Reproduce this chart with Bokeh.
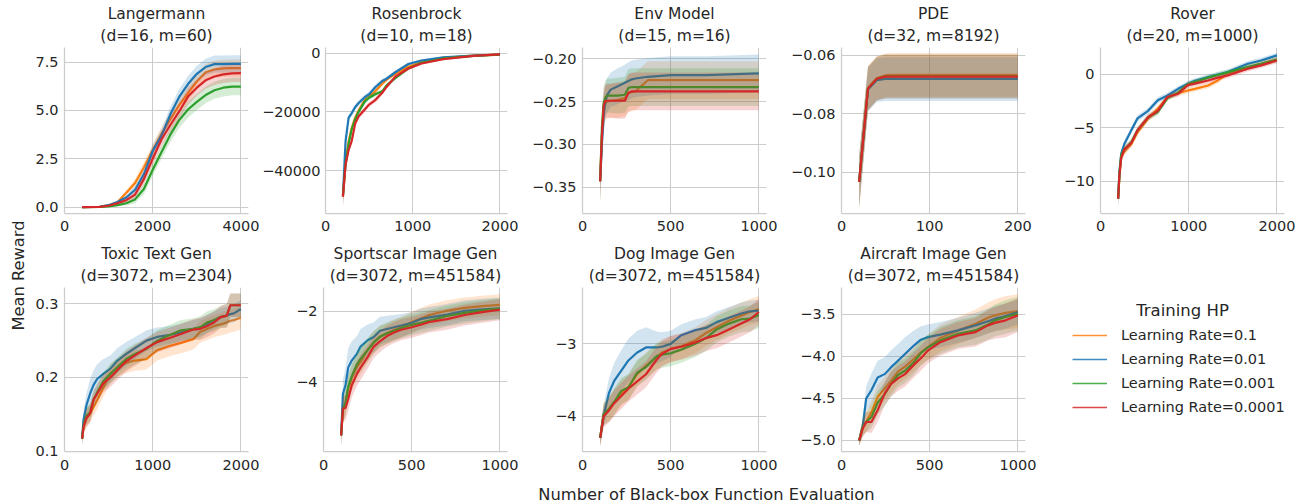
from bokeh.plotting import figure
from bokeh.models import Range1d, FixedTicker, Title, Legend, LegendItem, Label
from bokeh.layouts import row, column
from bokeh.embed import file_html
from bokeh.resources import INLINE

FONT = "DejaVu Sans"
TXT = "#262626"
GRID = "#cccccc"

hue_labels = ["Learning Rate=0.1", "Learning Rate=0.01", "Learning Rate=0.001", "Learning Rate=0.0001"]
hue_colors = ["#ff7f0e", "#1f77b4", "#2ca02c", "#d62728"]

# ---------------- Langermann ----------------
lang_x = [400, 800, 1000, 1200, 1400, 1600, 1800, 2000, 2200, 2400, 2600, 2800, 3000, 3200, 3400, 3600, 3800, 4000]
lang_m1 = [0, 0.02, 0.1, 0.25, 0.74, 1.25, 2.05, 2.95, 3.8, 4.55, 5.28, 5.9, 6.5, 6.98, 7.12, 7.18, 7.19, 7.19]
lang_m2 = [0, 0.02, 0.1, 0.26, 0.5, 0.9, 1.7, 2.9, 3.7, 4.8, 5.7, 6.37, 6.9, 7.25, 7.4, 7.4, 7.41, 7.41]
lang_m3 = [0, 0.01, 0.04, 0.1, 0.2, 0.4, 0.94, 1.93, 2.85, 3.75, 4.5, 5.05, 5.45, 5.8, 6.05, 6.18, 6.24, 6.24]
lang_m4 = [0, 0.01, 0.07, 0.2, 0.36, 0.65, 1.45, 2.5, 3.5, 4.25, 4.95, 5.72, 6.18, 6.56, 6.76, 6.87, 6.92, 6.93]
lang_e = [0, 0.01, 0.03, 0.06, 0.12, 0.2, 0.28, 0.32, 0.35, 0.38, 0.4, 0.42, 0.42, 0.43, 0.44, 0.45, 0.45, 0.45]

# ---------------- Rosenbrock ----------------
rosen_x = [200, 230, 265, 300, 340, 380, 450, 500, 570, 650, 700, 800, 950, 1100, 1350, 1700, 2000]
rosen_m1 = [-48500, -37000, -30000, -25500, -22000, -19500, -16000, -14800, -13000, -10400, -9000, -7000, -4600, -3000, -1600, -800, -400]
rosen_m2 = [-48500, -30000, -22000, -20500, -18400, -17000, -15000, -14000, -11600, -9500, -8700, -6500, -3700, -2500, -1400, -800, -450]
rosen_m3 = [-48500, -38000, -31000, -26000, -22500, -20000, -16500, -15200, -14000, -13000, -11000, -8500, -5200, -3300, -1800, -900, -500]
rosen_m4 = [-49000, -38000, -33000, -30000, -24000, -21500, -19200, -17500, -16000, -13500, -11500, -8000, -5200, -3500, -2000, -900, -400]
rosen_e = [3500, 1500, 1200, 1000, 1000, 900, 900, 800, 800, 700, 700, 600, 500, 400, 300, 200, 200]

# ---------------- Env Model ----------------
env_x = [100, 110, 120, 130, 140, 160, 200, 240, 260, 280, 300, 370, 500, 700, 1000]
env_m1 = [-0.343, -0.29, -0.262, -0.252, -0.25, -0.249, -0.248, -0.246, -0.240, -0.239, -0.238, -0.225, -0.225, -0.225, -0.225]
env_m2 = [-0.343, -0.30, -0.265, -0.25, -0.242, -0.236, -0.232, -0.228, -0.226, -0.224, -0.223, -0.221, -0.219, -0.219, -0.217]
env_m3 = [-0.343, -0.28, -0.252, -0.245, -0.243, -0.243, -0.243, -0.242, -0.234, -0.233, -0.233, -0.233, -0.233, -0.233, -0.233]
env_m4 = [-0.343, -0.29, -0.255, -0.249, -0.249, -0.249, -0.249, -0.249, -0.240, -0.238, -0.238, -0.238, -0.238, -0.238, -0.238]
env_e = [0.025, 0.022, 0.02, 0.02, 0.02, 0.02, 0.021, 0.021, 0.022, 0.022, 0.022, 0.022, 0.022, 0.022, 0.022]

# ---------------- PDE ----------------
pde_x = [20, 30, 40, 50, 60, 80, 100, 120, 140, 160, 180, 200]
pde_m1 = [-0.1034, -0.0712, -0.0678, -0.0668, -0.0667, -0.0667, -0.0667, -0.0667, -0.0667, -0.0667, -0.0667, -0.0667]
pde_m2 = [-0.1034, -0.0717, -0.0685, -0.0681, -0.0681, -0.0681, -0.0681, -0.0681, -0.0681, -0.0681, -0.0681, -0.0681]
pde_m3 = [-0.1034, -0.0714, -0.0680, -0.0672, -0.0672, -0.0672, -0.0672, -0.0672, -0.0672, -0.0672, -0.0672, -0.0672]
pde_m4 = [-0.1034, -0.0714, -0.0680, -0.0673, -0.0673, -0.0673, -0.0673, -0.0673, -0.0673, -0.0673, -0.0673, -0.0673]
pde_e = [0.0088, 0.0075, 0.0075, 0.0075, 0.0075, 0.0075, 0.0075, 0.0075, 0.0075, 0.0075, 0.0075, 0.0075]

# ---------------- Rover ----------------
rover_x = [200, 215, 235, 270, 350, 420, 540, 650, 760, 880, 990, 1070, 1220, 1330, 1440, 1670, 1820, 2000]
rover_m1 = [-11.6, -9.5, -7.7, -7.2, -6.5, -5.4, -4.1, -3.2, -2.1, -1.75, -1.5, -1.34, -1.03, -0.56, 0.06, 0.68, 1.0, 1.40]
rover_m2 = [-11.6, -9.0, -7.4, -6.5, -5.2, -4.1, -3.4, -2.4, -1.96, -1.34, -0.87, -0.6, -0.25, 0.0, 0.22, 1.0, 1.31, 1.78]
rover_m3 = [-11.6, -9.3, -7.5, -7.0, -6.3, -5.2, -4.0, -3.5, -2.2, -1.7, -0.9, -0.7, -0.3, -0.05, 0.2, 0.7, 1.0, 1.4]
rover_m4 = [-11.6, -9.3, -7.8, -7.0, -6.4, -5.2, -4.0, -3.4, -2.1, -1.8, -1.0, -0.85, -0.56, -0.3, -0.1, 0.53, 0.85, 1.31]
rover_e = [0.8, 0.5, 0.4, 0.35, 0.3, 0.3, 0.3, 0.3, 0.25, 0.25, 0.25, 0.25, 0.25, 0.25, 0.25, 0.25, 0.25, 0.25]

# ---------------- Toxic Text Gen ----------------
tox_x = [200, 215, 250, 290, 330, 370, 440, 520, 600, 700, 800, 930, 1050, 1200, 1320, 1460, 1540, 1620, 1700, 1770, 1840, 1880, 1920, 2000]
tox_m1 = [0.117, 0.133, 0.145, 0.151, 0.160, 0.169, 0.186, 0.205, 0.214, 0.220, 0.223, 0.225, 0.237, 0.243, 0.247, 0.252, 0.262, 0.266, 0.270, 0.272, 0.275, 0.277, 0.278, 0.281]
tox_m2 = [0.117, 0.142, 0.163, 0.178, 0.19, 0.198, 0.205, 0.212, 0.223, 0.232, 0.240, 0.250, 0.255, 0.258, 0.261, 0.266, 0.268, 0.273, 0.278, 0.282, 0.284, 0.286, 0.287, 0.293]
tox_m3 = [0.117, 0.135, 0.148, 0.153, 0.170, 0.180, 0.195, 0.205, 0.214, 0.225, 0.232, 0.239, 0.250, 0.258, 0.264, 0.266, 0.268, 0.275, 0.278, 0.282, 0.284, 0.298, 0.298, 0.298]
tox_m4 = [0.117, 0.133, 0.145, 0.151, 0.170, 0.178, 0.192, 0.200, 0.210, 0.222, 0.230, 0.240, 0.248, 0.254, 0.259, 0.265, 0.266, 0.270, 0.275, 0.282, 0.284, 0.298, 0.298, 0.298]
tox_e = [0.008, 0.01, 0.012, 0.012, 0.012, 0.012, 0.012, 0.013, 0.013, 0.014, 0.014, 0.014, 0.014, 0.014, 0.014, 0.014, 0.015, 0.015, 0.015, 0.015, 0.016, 0.016, 0.016, 0.016]
tox_e2 = [0.008, 0.012, 0.016, 0.02, 0.02, 0.02, 0.02, 0.018, 0.017, 0.016, 0.015, 0.014, 0.013, 0.012, 0.012, 0.012, 0.012, 0.012, 0.012, 0.012, 0.012, 0.012, 0.012, 0.012]

# ---------------- Sportscar Image Gen ----------------
car_x = [100, 110, 125, 140, 160, 190, 210, 250, 285, 320, 360, 400, 440, 500, 550, 600, 700, 800, 900, 1000]
car_m1 = [-5.53, -4.8, -4.6, -4.2, -3.9, -3.58, -3.45, -3.1, -2.88, -2.72, -2.62, -2.52, -2.45, -2.3, -2.2, -2.1, -1.98, -1.9, -1.85, -1.81]
car_m2 = [-5.53, -4.35, -4.1, -3.6, -3.4, -3.2, -3.0, -2.82, -2.73, -2.55, -2.5, -2.45, -2.4, -2.32, -2.22, -2.17, -2.09, -1.98, -1.94, -1.91]
car_m3 = [-5.53, -4.8, -4.6, -4.15, -3.85, -3.5, -3.35, -3.1, -2.88, -2.72, -2.62, -2.55, -2.47, -2.38, -2.32, -2.26, -2.13, -2.04, -1.97, -1.92]
car_m4 = [-5.53, -4.77, -4.75, -4.5, -4.1, -3.77, -3.6, -3.3, -3.0, -2.85, -2.7, -2.6, -2.52, -2.45, -2.38, -2.3, -2.22, -2.1, -2.02, -1.95]
car_e = [0.3, 0.35, 0.35, 0.35, 0.35, 0.35, 0.35, 0.33, 0.32, 0.31, 0.3, 0.3, 0.3, 0.3, 0.3, 0.3, 0.3, 0.3, 0.3, 0.3]
car_e2 = [0.25, 0.4, 0.5, 0.55, 0.55, 0.5, 0.5, 0.45, 0.42, 0.4, 0.38, 0.35, 0.33, 0.3, 0.3, 0.3, 0.3, 0.3, 0.3, 0.3]

# ---------------- Dog Image Gen ----------------
dog_x = [100, 120, 150, 180, 220, 260, 310, 360, 420, 450, 500, 560, 640, 700, 760, 830, 900, 950, 1000]
dog_m1 = [-4.30, -3.97, -3.90, -3.80, -3.68, -3.60, -3.42, -3.30, -3.18, -3.12, -3.07, -3.03, -2.95, -2.85, -2.77, -2.68, -2.61, -2.56, -2.52]
dog_m2 = [-4.30, -3.99, -3.68, -3.51, -3.37, -3.23, -3.12, -3.05, -3.05, -3.04, -3.0, -2.88, -2.81, -2.78, -2.70, -2.64, -2.58, -2.55, -2.54]
dog_m3 = [-4.30, -3.97, -3.90, -3.80, -3.65, -3.60, -3.40, -3.32, -3.17, -3.15, -3.13, -3.08, -3.0, -2.92, -2.80, -2.72, -2.66, -2.65, -2.60]
dog_m4 = [-4.30, -4.0, -3.92, -3.82, -3.72, -3.62, -3.52, -3.42, -3.22, -3.14, -3.07, -3.04, -2.98, -2.92, -2.88, -2.80, -2.72, -2.66, -2.56]
dog_e = [0.12, 0.15, 0.17, 0.18, 0.18, 0.18, 0.18, 0.18, 0.18, 0.18, 0.18, 0.18, 0.18, 0.18, 0.18, 0.18, 0.18, 0.18, 0.18]
dog_e2 = [0.1, 0.15, 0.2, 0.25, 0.28, 0.3, 0.3, 0.28, 0.22, 0.2, 0.18, 0.15, 0.15, 0.15, 0.15, 0.15, 0.15, 0.15, 0.15]

# ---------------- Aircraft Image Gen ----------------
air_x = [100, 120, 140, 170, 205, 245, 280, 320, 360, 410, 450, 490, 560, 660, 760, 830, 870, 930, 1000]
air_m1 = [-5.0, -4.84, -4.78, -4.66, -4.48, -4.38, -4.29, -4.18, -4.12, -4.03, -3.95, -3.89, -3.78, -3.69, -3.61, -3.54, -3.51, -3.48, -3.46]
air_m2 = [-5.0, -4.84, -4.50, -4.40, -4.25, -4.21, -4.13, -4.05, -3.97, -3.87, -3.80, -3.77, -3.74, -3.69, -3.63, -3.58, -3.55, -3.52, -3.47]
air_m3 = [-5.0, -4.84, -4.78, -4.72, -4.55, -4.45, -4.33, -4.22, -4.17, -4.07, -3.96, -3.89, -3.81, -3.73, -3.69, -3.62, -3.57, -3.53, -3.49]
air_m4 = [-5.0, -4.86, -4.78, -4.78, -4.64, -4.44, -4.33, -4.26, -4.21, -4.10, -4.02, -3.93, -3.83, -3.75, -3.71, -3.63, -3.60, -3.57, -3.51]
air_e = [0.06, 0.1, 0.12, 0.13, 0.14, 0.14, 0.15, 0.15, 0.15, 0.15, 0.15, 0.15, 0.16, 0.16, 0.17, 0.18, 0.19, 0.2, 0.2]
air_e2 = [0.06, 0.1, 0.15, 0.2, 0.2, 0.2, 0.2, 0.2, 0.2, 0.18, 0.16, 0.15, 0.15, 0.15, 0.15, 0.15, 0.15, 0.15, 0.15]

# ---------------- panel titles / ticks ----------------
titles = ["Langermann", "Rosenbrock", "Env Model", "PDE", "Rover",
          "Toxic Text Gen", "Sportscar Image Gen", "Dog Image Gen", "Aircraft Image Gen"]
subtitles = ["(d=16, m=60)", "(d=10, m=18)", "(d=15, m=16)", "(d=32, m=8192)", "(d=20, m=1000)",
             "(d=3072, m=2304)", "(d=3072, m=451584)", "(d=3072, m=451584)", "(d=3072, m=451584)"]
x_ticks = [[0, 2000, 4000], [0, 1000, 2000], [0, 500, 1000], [0, 100, 200], [0, 1000, 2000],
           [0, 1000, 2000], [0, 500, 1000], [0, 500, 1000], [0, 500, 1000]]
y_ticks = [[0, 2.5, 5.0, 7.5], [-40000, -20000, 0], [-0.35, -0.30, -0.25, -0.20], [-0.10, -0.08, -0.06],
           [-10, -5, 0], [0.1, 0.2, 0.3], [-6, -4, -2], [-4, -3], [-5.0, -4.5, -4.0, -3.5]]
y_tick_labels = [["0.0", "2.5", "5.0", "7.5"], ["\u221240000", "\u221220000", "0"],
                 ["\u22120.35", "\u22120.30", "\u22120.25", "\u22120.20"], ["\u22120.10", "\u22120.08", "\u22120.06"],
                 ["\u221210", "\u22125", "0"], ["0.1", "0.2", "0.3"], ["\u22126", "\u22124", "\u22122"],
                 ["\u22124", "\u22123"], ["\u22125.0", "\u22124.5", "\u22124.0", "\u22123.5"]]
y_limits = [(-0.33, 8.26), (-54650, 1940), (-0.3807, -0.1868), (-0.1142, -0.0573), (-12.99, 2.52),
            (0.0996, 0.3221), (-5.99, -1.317), (-4.488, -2.221), (-5.131, -3.179)]

xs = [lang_x, rosen_x, env_x, pde_x, rover_x, tox_x, car_x, dog_x, air_x]
means = [[lang_m1, lang_m2, lang_m3, lang_m4], [rosen_m1, rosen_m2, rosen_m3, rosen_m4],
         [env_m1, env_m2, env_m3, env_m4], [pde_m1, pde_m2, pde_m3, pde_m4],
         [rover_m1, rover_m2, rover_m3, rover_m4], [tox_m1, tox_m2, tox_m3, tox_m4],
         [car_m1, car_m2, car_m3, car_m4], [dog_m1, dog_m2, dog_m3, dog_m4], [air_m1, air_m2, air_m3, air_m4]]
errs = [[lang_e] * 4, [rosen_e] * 4, [env_e] * 4, [pde_e] * 4, [rover_e] * 4,
        [tox_e, tox_e2, tox_e, tox_e], [car_e, car_e2, car_e, car_e],
        [dog_e, dog_e2, dog_e, dog_e], [air_e, air_e2, air_e, air_e]]

# layout: (fig width, min_border_left, min_border_right, y label standoff)
row1_geom = [(227, 32, 11, 6), (266, 64, 18, 5), (259, 57, 18, 6), (264, 57, 23, 6), (248, 52, 12, 6)]
row2_geom = [(238, 32, 22, 6), (270, 53, 33, 6), (250, 42, 24, 6), (250, 51, 15, 6)]
R1 = dict(height=243, top=47, bottom=30, xs=7)
R2 = dict(height=234, top=44, bottom=26, xs=8)


def style_text(t, size):
    t.text_font = FONT
    t.text_font_size = size
    t.text_font_style = "normal"
    t.text_color = TXT
    return t


def make_panel(i, geom, spec):
    w, ml, mr, ys = geom
    xmax = x_ticks[i][-1]
    p = figure(width=w, height=spec["height"], x_range=Range1d(0, xmax * 1.043),
               y_range=Range1d(*y_limits[i]), toolbar_location=None, tools="",
               output_backend="svg", title=None,
               min_border_left=ml, min_border_right=mr,
               min_border_top=spec["top"], min_border_bottom=spec["bottom"])
    p.outline_line_color = None
    p.background_fill_color = "white"
    p.border_fill_color = "white"
    for m, e, c in zip(means[i], errs[i], hue_colors):
        lo = [a - b for a, b in zip(m, e)]
        hi = [a + b for a, b in zip(m, e)]
        p.varea(x=xs[i], y1=lo, y2=hi, fill_color=c, fill_alpha=0.2)
        p.line(xs[i], m, line_color=c, line_width=2.2)
    p.xaxis.ticker = FixedTicker(ticks=x_ticks[i])
    p.yaxis.ticker = FixedTicker(ticks=y_ticks[i])
    p.xgrid.ticker = FixedTicker(ticks=x_ticks[i])
    p.ygrid.ticker = FixedTicker(ticks=y_ticks[i])
    p.xaxis.major_label_overrides = {v: str(v) for v in x_ticks[i]}
    p.yaxis.major_label_overrides = dict(zip(y_ticks[i], y_tick_labels[i]))
    for ax in (p.xaxis[0], p.yaxis[0]):
        ax.axis_line_color = GRID
        ax.axis_line_width = 1.25
        ax.major_tick_line_color = None
        ax.minor_tick_line_color = None
        ax.major_tick_out = 0
        ax.major_tick_in = 0
        ax.minor_tick_out = 0
        ax.minor_tick_in = 0
        ax.major_label_text_font = FONT
        ax.major_label_text_font_size = "14.5px"
        ax.major_label_text_color = TXT
    p.xaxis.major_label_standoff = spec["xs"]
    p.yaxis.major_label_standoff = ys
    p.grid.grid_line_color = GRID
    p.grid.grid_line_width = 1
    # inner (closest to the frame) line first, then the outer one
    p.add_layout(style_text(Title(text=subtitles[i], align="center", standoff=6), "15.5px"), "above")
    p.add_layout(style_text(Title(text=titles[i], align="center", standoff=-3), "15.5px"), "above")
    return p


r1 = [make_panel(i, row1_geom[i], R1) for i in range(5)]
r2 = [make_panel(5 + j, row2_geom[j], R2) for j in range(4)]

# legend cell (same borders as the rest of row 2 so frames stay aligned)
lf = figure(width=256, height=R2["height"], x_range=Range1d(0, 1), y_range=Range1d(0, 1),
            toolbar_location=None, tools="", output_backend="svg", title=None,
            x_axis_location=None, y_axis_location=None,
            min_border_left=0, min_border_right=0, min_border_top=R2["top"], min_border_bottom=R2["bottom"])
lf.outline_line_color = None
lf.grid.visible = False
items = []
for lab, c, m in zip(hue_labels, hue_colors, means[0]):
    # real series drawn outside this empty cell's view; only their legend samples show
    rr = lf.line(x=lang_x, y=m, line_color=c, line_width=1.6, line_alpha=0.85)
    items.append(LegendItem(label=lab, renderers=[rr]))
leg = Legend(items=items, location=(32, 34), margin=0, padding=5, border_line_color=None,
             background_fill_alpha=0, glyph_width=35, glyph_height=20, label_height=20,
             label_standoff=14, spacing=4, label_text_font=FONT, label_text_font_size="14.5px",
             label_text_color=TXT)
lf.add_layout(leg)
lf.add_layout(style_text(Label(x=142, y=141, x_units="screen", y_units="screen", text="Training HP",
                               text_align="center", text_baseline="middle"), "16.5px"))
r2.append(lf)

# y label
ylab = figure(width=32, height=R1["height"] + R2["height"], x_range=Range1d(0, 1), y_range=Range1d(0, 1),
              toolbar_location=None, tools="", output_backend="svg", title=None,
              x_axis_location=None, y_axis_location=None,
              min_border_left=27, min_border_right=0, min_border_top=73, min_border_bottom=0)
ylab.outline_line_color = None
ylab.grid.visible = False
ylab.add_layout(style_text(Title(text="Mean Reward", align="center", standoff=0), "16.3px"), "left")

# x label
xlab = figure(width=1296, height=503 - R1["height"] - R2["height"], x_range=Range1d(0, 1), y_range=Range1d(0, 1),
              toolbar_location=None, tools="", output_backend="svg", title=None,
              x_axis_location=None, y_axis_location=None,
              min_border_left=116, min_border_right=0, min_border_top=0, min_border_bottom=0)
xlab.outline_line_color = None
xlab.grid.visible = False
xlab.add_layout(style_text(Title(text="Number of Black-box Function Evaluation", align="center", standoff=0),
                           "16.3px"), "below")

layout = column(row(ylab, column(row(*r1), row(*r2))), xlab)

open("out.html", "w").write(file_html(layout, INLINE))
